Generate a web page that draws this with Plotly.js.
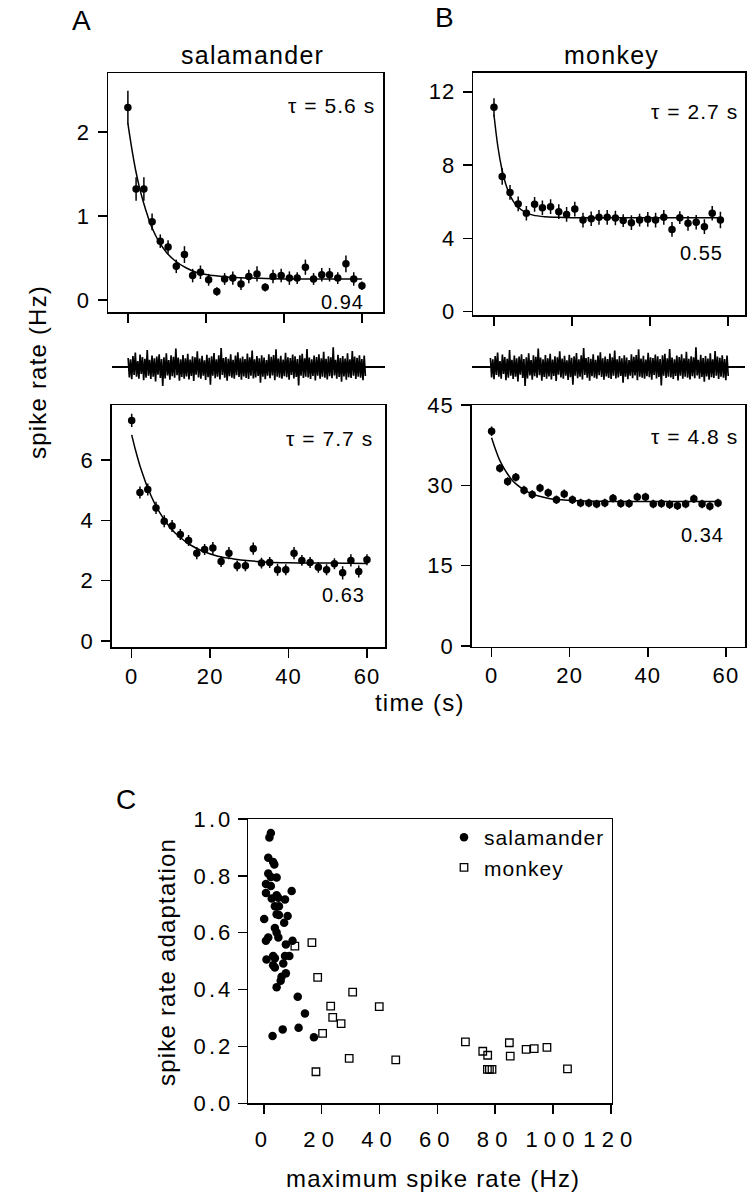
<!DOCTYPE html>
<html><head><meta charset="utf-8">
<script src="https://cdn.plot.ly/plotly-3.0.1.min.js"></script>
<style>
html,body{margin:0;padding:0;background:#fff;}
#chart{width:752px;height:1199px;}
text{letter-spacing:0.05em;}
.x5y5 .xaxislayer-above text{letter-spacing:0.28em;}
.x5y5 .yaxislayer-above text{letter-spacing:0.14em;}
</style>
</head><body><div id="chart"></div>
<script>
// ---------- data ----------
const T_SAL = [0,2.1,4.1,6.2,8.3,10.3,12.4,14.5,16.6,18.6,20.7,22.8,24.8,26.9,29.0,31.0,33.1,35.2,37.2,39.3,41.4,43.4,45.5,47.6,49.7,51.7,53.8,55.9,57.9,60.0];
const T_MON = [0,2.1,4.1,6.2,8.3,10.4,12.4,14.5,16.6,18.6,20.7,22.8,24.9,26.9,29.0,31.1,33.1,35.2,37.3,39.4,41.4,43.5,45.6,47.6,49.7,51.8,53.9,55.9,58.0];

const SAL_TOP = [2.29,1.32,1.32,0.93,0.70,0.63,0.40,0.54,0.29,0.33,0.24,0.10,0.25,0.26,0.19,0.28,0.31,0.15,0.28,0.29,0.26,0.26,0.39,0.25,0.30,0.30,0.26,0.43,0.25,0.17];
const SAL_TOP_ERR = [0.20,0.14,0.14,0.10,0.08,0.08,0.08,0.10,0.08,0.08,0.07,0.05,0.07,0.08,0.07,0.08,0.09,0.05,0.08,0.08,0.08,0.07,0.09,0.07,0.08,0.08,0.07,0.10,0.08,0.05];

const MON_TOP = [11.15,7.37,6.51,5.88,5.37,5.86,5.67,5.73,5.46,5.31,5.60,5.00,5.07,5.15,5.15,5.11,4.97,4.86,5.00,5.04,5.00,5.15,4.49,5.13,4.82,4.88,4.64,5.37,5.00];
const MON_TOP_ERR = [0.50,0.45,0.40,0.40,0.40,0.40,0.40,0.40,0.40,0.40,0.40,0.40,0.40,0.40,0.40,0.40,0.35,0.40,0.35,0.40,0.40,0.40,0.40,0.35,0.40,0.40,0.40,0.40,0.45];

const SAL_BOT = [7.31,4.92,5.02,4.41,3.97,3.81,3.53,3.33,2.91,3.03,3.08,2.63,2.91,2.49,2.49,3.06,2.58,2.60,2.36,2.36,2.91,2.67,2.60,2.44,2.36,2.56,2.26,2.67,2.30,2.69];
const SAL_BOT_ERR = [0.22,0.20,0.20,0.20,0.20,0.20,0.18,0.18,0.20,0.18,0.20,0.18,0.20,0.18,0.18,0.20,0.18,0.18,0.20,0.18,0.20,0.18,0.18,0.18,0.18,0.18,0.22,0.20,0.20,0.18];

const MON_BOT = [40.1,33.2,30.7,31.5,29.1,28.3,29.5,28.6,27.3,28.4,27.3,26.7,26.7,26.5,26.7,27.6,26.6,26.6,27.8,27.8,26.5,26.6,26.4,26.2,26.5,27.5,26.5,26.1,26.7];
const MON_BOT_ERR = [0.9,0.8,0.8,0.8,0.8,0.8,0.8,0.8,0.8,0.8,0.8,0.8,0.8,0.8,0.8,0.8,0.8,0.8,0.8,0.8,0.8,0.8,0.8,0.8,0.8,0.8,0.8,0.8,0.8];

// exponential fits, sampled from the drawn curves
const FIT_SAL_TOP_T = [0,1,2,3,4,5,6,8,10,12,15,18,22,26,32,40,60];
const FIT_SAL_TOP_Y = [2.10,1.80,1.54,1.33,1.16,1.01,0.88,0.69,0.56,0.47,0.38,0.32,0.29,0.27,0.26,0.25,0.25];
const FIT_MON_TOP_T = [0,1,2,3,4,5,6,8,10,13,16,20,58];
const FIT_MON_TOP_Y = [10.73,9.00,7.80,6.97,6.40,6.01,5.74,5.42,5.27,5.18,5.15,5.13,5.13];
const FIT_SAL_BOT_T = [0,1,2,3,4,6,8,10,12,15,18,22,26,30,35,40,50,60];
const FIT_SAL_BOT_Y = [6.83,6.31,5.85,5.46,5.10,4.52,4.08,3.73,3.47,3.18,2.98,2.81,2.72,2.66,2.61,2.59,2.58,2.57];
const FIT_MON_BOT_T = [0,1,2,3,4,5,6,8,10,12,15,18,22,30,58];
const FIT_MON_BOT_Y = [38.9,36.7,34.8,33.4,32.2,31.2,30.4,29.3,28.5,28.0,27.5,27.3,27.1,27.0,27.0];

// flicker stimulus trace (arbitrary units)
const STIM = [0.45,-0.52,0.38,-0.61,0.55,-0.40,0.72,-0.48,0.30,-0.58,
0.62,-0.35,0.50,-0.66,0.41,-0.53,0.85,-0.44,0.36,-0.60,
0.57,-0.49,0.44,-0.72,0.52,-0.38,0.64,-0.55,0.40,-0.95,
0.48,-0.57,0.69,-0.42,0.35,-0.63,0.58,-0.46,0.51,-0.54,
0.92,-0.41,0.47,-0.68,0.39,-0.50,0.60,-0.58,0.43,-0.47,
0.66,-0.62,0.37,-0.45,0.54,-0.70,0.49,-0.39,0.78,-0.52,
0.42,-0.59,0.56,-0.44,0.33,-0.65,0.61,-0.51,0.46,-0.88,
0.53,-0.43,0.70,-0.56,0.38,-0.48,0.59,-0.62,0.95,-0.40,
0.45,-0.54,0.50,-0.69,0.41,-0.46,0.63,-0.53,0.36,-0.58,
0.57,-0.41,0.74,-0.50,0.44,-0.64,0.52,-0.47,0.40,-0.55,
0.67,-0.60,0.48,-0.43,0.82,-0.57,0.39,-0.52,0.55,-0.45,
0.43,-0.78,0.58,-0.49,0.47,-0.61,0.35,-0.44,0.64,-0.56,
0.51,-0.42,0.60,-0.66,0.88,-0.48,0.42,-0.53,0.56,-0.59,
0.37,-0.46,0.71,-0.51,0.49,-0.63,0.45,-0.40,0.62,-0.57,
0.54,-0.50,0.40,-0.92,0.58,-0.44,0.66,-0.55,0.43,-0.48,
0.90,-0.52,0.47,-0.60,0.39,-0.45,0.57,-0.67,0.50,-0.43,
0.63,-0.58,0.44,-0.49,0.76,-0.54,0.41,-0.62,0.53,-0.46,
0.48,-0.56,0.98,-0.42,0.36,-0.59,0.61,-0.50,0.45,-0.73,
0.55,-0.47,0.42,-0.64,0.68,-0.51,0.38,-0.55,0.80,-0.44,
0.52,-0.60,0.46,-0.48,0.59,-0.53,0.40,-0.66,0.57,-0.45];

// panel C
const SAL_MAX = [2.4,1.9,1.5,3.2,3.6,1.5,2.4,4.4,0.7,2.4,9.6,0.7,2.7,4.4,5.0,7.3,3.8,5.2,4.4,5.2,8.2,7.0,0.1,3.8,4.4,0.7,1.5,5.0,9.9,7.6,0.9,3.2,3.8,7.3,8.8,3.2,3.8,6.7,7.6,6.1,5.8,4.4,11.7,14.2,3.0,6.5,12.0,17.3];
const SAL_ADAPT = [0.951,0.935,0.864,0.849,0.840,0.808,0.796,0.794,0.771,0.764,0.747,0.740,0.720,0.732,0.723,0.717,0.693,0.693,0.665,0.662,0.659,0.635,0.648,0.617,0.601,0.572,0.583,0.583,0.572,0.559,0.506,0.518,0.510,0.518,0.518,0.486,0.478,0.492,0.457,0.445,0.431,0.408,0.375,0.316,0.237,0.260,0.266,0.232];
const MON_MAX = [10.7,16.6,18.6,30.7,23.1,39.9,23.8,26.7,20.3,29.5,18.0,45.6,69.7,75.7,77.4,77.3,78.0,78.9,84.9,85.2,90.7,93.5,97.9,105.0];
const MON_ADAPT = [0.553,0.565,0.443,0.391,0.342,0.340,0.302,0.280,0.246,0.158,0.111,0.153,0.216,0.183,0.169,0.119,0.119,0.119,0.213,0.166,0.190,0.192,0.197,0.121];

// ---------- layout helpers (pixel -> paper) ----------
const W = 752, H = 1199;
const px = p => p / W;
const py = p => 1 - p / H;
const FONT = 'Liberation Sans, Arial, Helvetica, sans-serif';
const BLACK = '#000';

function boxAxis(extra) {
  return Object.assign({
    showline: true, mirror: true, linecolor: BLACK, linewidth: 1.5,
    ticks: 'outside', ticklen: 9, tickwidth: 1.5, tickcolor: BLACK,
    showgrid: false, zeroline: false,
    tickfont: {family: FONT, size: 22, color: BLACK},
    fixedrange: true
  }, extra);
}

const ptStyle = {color: BLACK, size: 7.5, symbol: 'circle'};
function dataTrace(x, y, err, xa, ya) {
  return {x: x, y: y, type: 'scatter', mode: 'markers', xaxis: xa, yaxis: ya,
    marker: ptStyle, showlegend: false, hoverinfo: 'skip',
    error_y: {type: 'data', array: err, visible: true, color: BLACK, thickness: 1.5, width: 0}};
}
function fitTrace(x, y, xa, ya) {
  return {x: x, y: y, type: 'scatter', mode: 'lines', xaxis: xa, yaxis: ya,
    line: {color: BLACK, width: 1.5, shape: 'spline', smoothing: 1}, showlegend: false, hoverinfo: 'skip'};
}

const traces = [
  fitTrace(FIT_SAL_TOP_T, FIT_SAL_TOP_Y, 'x', 'y'),
  dataTrace(T_SAL, SAL_TOP, SAL_TOP_ERR, 'x', 'y'),
  fitTrace(FIT_MON_TOP_T, FIT_MON_TOP_Y, 'x2', 'y2'),
  dataTrace(T_MON, MON_TOP, MON_TOP_ERR, 'x2', 'y2'),
  fitTrace(FIT_SAL_BOT_T, FIT_SAL_BOT_Y, 'x3', 'y3'),
  dataTrace(T_SAL, SAL_BOT, SAL_BOT_ERR, 'x3', 'y3'),
  fitTrace(FIT_MON_BOT_T, FIT_MON_BOT_Y, 'x4', 'y4'),
  dataTrace(T_MON, MON_BOT, MON_BOT_ERR, 'x4', 'y4'),
  {y: STIM, x0: -0.9, dx: 60.5 / (STIM.length - 1), type: 'scatter', mode: 'lines', xaxis: 'x6', yaxis: 'y6',
    line: {color: BLACK, width: 1.7}, showlegend: false, hoverinfo: 'skip'},
  {y: STIM, x0: -0.3, dx: 60.9 / (STIM.length - 1), type: 'scatter', mode: 'lines', xaxis: 'x7', yaxis: 'y7',
    line: {color: BLACK, width: 1.7}, showlegend: false, hoverinfo: 'skip'},
  {x: SAL_MAX, y: SAL_ADAPT, type: 'scatter', mode: 'markers', xaxis: 'x5', yaxis: 'y5', name: 'salamander',
    marker: {color: BLACK, size: 8.5, symbol: 'circle'}, hoverinfo: 'skip'},
  {x: MON_MAX, y: MON_ADAPT, type: 'scatter', mode: 'markers', xaxis: 'x5', yaxis: 'y5', name: 'monkey',
    marker: {color: BLACK, size: 7.5, symbol: 'square-open', line: {width: 1.3, color: BLACK}}, hoverinfo: 'skip'}
];

const stimAxisY = {domain: [py(394), py(340)], range: [-1.35, 1.35], showline: false, showgrid: false,
  showticklabels: false, ticks: '', zeroline: true, zerolinecolor: BLACK, zerolinewidth: 2, fixedrange: true};

const layout = {
  width: W, height: H,
  margin: {l: 0, r: 0, t: 0, b: 0},
  paper_bgcolor: '#fff', plot_bgcolor: 'rgba(0,0,0,0)',
  font: {family: FONT, color: BLACK},
  showlegend: true,
  legend: {x: px(444), y: py(817), xanchor: 'left', yanchor: 'top', bgcolor: 'rgba(0,0,0,0)',
    font: {family: FONT, size: 21, color: BLACK}, itemsizing: 'trace', tracegroupgap: 0},
  // A top
  xaxis: boxAxis({domain: [px(108), px(383)], range: [-5.1, 65.4], tickvals: [0, 20, 40, 60], showticklabels: false, anchor: 'y'}),
  yaxis: boxAxis({domain: [py(312), py(73)], range: [-0.143, 2.70], tickvals: [0, 1, 2], anchor: 'x', ticklabelstandoff: 3}),
  // B top
  xaxis2: boxAxis({domain: [px(473.3), px(745)], range: [-5.3, 64.3], tickvals: [0, 20, 40, 60], showticklabels: false, anchor: 'y2'}),
  yaxis2: boxAxis({domain: [py(315), py(72.7)], range: [-0.18, 13.04], tickvals: [0, 4, 8, 12], anchor: 'x2', ticklabelstandoff: 3}),
  // A bottom
  xaxis3: boxAxis({domain: [px(111.7), px(385)], range: [-5.1, 64.6], tickvals: [0, 20, 40, 60], anchor: 'y3', ticklabelstandoff: 0}),
  yaxis3: boxAxis({domain: [py(647.3), py(405)], range: [-0.21, 7.82], tickvals: [0, 2, 4, 6], anchor: 'x3', ticklabelstandoff: 3}),
  // B bottom
  xaxis4: boxAxis({domain: [px(471.7), px(745)], range: [-5.1, 64.9], tickvals: [0, 20, 40, 60], anchor: 'y4', ticklabelstandoff: 0}),
  yaxis4: boxAxis({domain: [py(646.5), py(405)], range: [-0.1, 45], tickvals: [0, 15, 30, 45], anchor: 'x4', ticklabelstandoff: 3}),
  // C
  xaxis5: boxAxis({domain: [px(248.3), px(611.7)], range: [-5.4, 120.3], tickvals: [0, 20, 40, 60, 80, 100, 120], anchor: 'y5',
    ticklabelstandoff: 7}),
  yaxis5: boxAxis({domain: [py(1103.3), py(819)], range: [0, 1.0], tickvals: [0, 0.2, 0.4, 0.6, 0.8, 1.0], tickformat: '.1f', anchor: 'x5',
    ticklabelstandoff: 0}),
  // stimulus traces
  xaxis6: {domain: [px(111.7), px(385)], range: [-5.1, 64.6], visible: false, anchor: 'y6', fixedrange: true},
  yaxis6: Object.assign({anchor: 'x6'}, stimAxisY),
  xaxis7: {domain: [px(471.7), px(745)], range: [-5.1, 64.9], visible: false, anchor: 'y7', fixedrange: true},
  yaxis7: Object.assign({anchor: 'x7'}, stimAxisY),
  annotations: []
};

function note(text, x, y, size, xanchor, angle) {
  layout.annotations.push({text: text, x: px(x), y: py(y), xref: 'paper', yref: 'paper',
    xanchor: xanchor || 'center', yanchor: 'middle', showarrow: false, textangle: angle || 0,
    font: {family: FONT, size: size, color: BLACK}});
}
note('A', 82, 20, 28);
note('B', 445, 18, 28);
note('C', 127, 800, 28);
note('salamander', 252, 55, 25);
note('monkey', 611, 55, 25);
note('τ = 5.6 s', 377, 105, 21, 'right');
note('0.94', 366, 302, 20, 'right');
note('τ = 2.7 s', 740, 112, 21, 'right');
note('0.55', 725, 253, 20, 'right');
note('τ = 7.7 s', 375, 438, 21, 'right');
note('0.63', 367, 595, 20, 'right');
note('τ = 4.8 s', 740, 436, 21, 'right');
note('0.34', 726, 535, 20, 'right');
note('spike rate (Hz)', 38, 372, 24, 'center', -90);
note('time (s)', 420, 702, 24);
note('spike rate adaptation', 166, 962, 24, 'center', -90);
note('maximum spike rate (Hz)', 433, 1178, 24);

Plotly.newPlot('chart', traces, layout, {staticPlot: true, displayModeBar: false});
</script></body></html>
